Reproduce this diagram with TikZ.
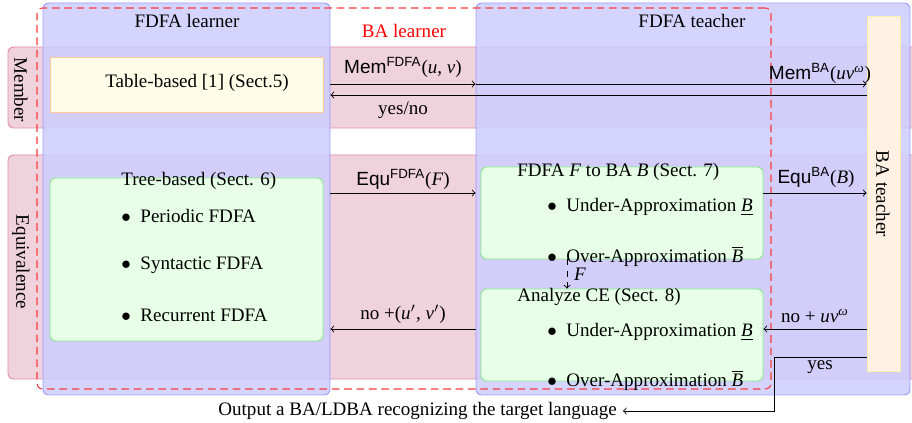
\documentclass[tikz,border=0pt]{standalone}
\usepackage{fontspec}
\setmainfont{Liberation Serif}
\setsansfont{Liberation Sans}
\usetikzlibrary{fit}
\definecolor{pinkfill}{RGB}{240,210,221}
\definecolor{pinkdraw}{RGB}{228,140,165}
\definecolor{bluefill}{RGB}{205,205,255}
\definecolor{bluedraw}{RGB}{140,140,255}
\definecolor{greenfill}{RGB}{230,255,230}
\definecolor{greendraw}{RGB}{140,235,140}
\definecolor{tablefill}{RGB}{255,253,232}
\definecolor{tabledraw}{RGB}{250,200,150}
\definecolor{batfill}{RGB}{255,242,228}
\definecolor{batdraw}{RGB}{250,238,170}
\definecolor{dashred}{RGB}{250,60,60}
\begin{document}
\begin{tikzpicture}[x=0.525pt,y=-0.525pt,
  band/.style={fill=pinkfill,draw=pinkdraw,rounded corners=3pt,inner sep=0pt,line width=0.5pt},
  actor/.style={fill=bluefill,fill opacity=0.85,draw=bluedraw,draw opacity=0.8,rounded corners=3pt,inner sep=0pt,line width=0.5pt},
  greenbox/.style={fill=greenfill,draw=greendraw,rounded corners=3pt,inner sep=0pt,line width=0.5pt},
  tablebox/.style={fill=tablefill,draw=tabledraw,inner sep=0pt,line width=0.5pt},
  batbox/.style={fill=batfill,draw=batdraw,inner sep=0pt,line width=0.5pt},
  lbl/.style={inner sep=1pt,font=\fontsize{10}{12}\selectfont},
  arr/.style={->,line width=0.45pt},
  bul/.style={anchor=west,inner sep=0pt,font=\fontsize{10}{12}\selectfont}
]
\useasboundingbox (0,0) rectangle (912,423);
\clip (0,0) rectangle (912,423);
% swim lanes
\node[band,fit={(8,47) (940,128)}] (member) {};
\node[band,fit={(8,155) (940,379)}] (equiv) {};
% actors
\node[actor,fit={(43,3) (330,395)}] (learner) {};
\node[actor,fit={(476,3) (910,395)}] (teacher) {};
% inner boxes
\node[tablebox,fit={(50,57) (323,112)}] (table) {};
\node[greenbox,fit={(50,178) (323,341)}] (tree) {};
\node[greenbox,fit={(481,167) (763,259)}] (conv) {};
\node[greenbox,fit={(481,289) (763,381)}] (ce) {};
\node[batbox,fit={(867,16) (900,371)}] (bat) {};
% BA learner dashed frame
\node[draw=dashred,dash pattern=on 4pt off 2.5pt,rounded corners=3pt,inner sep=0pt,line width=0.55pt,fit={(37,8) (771,389)}] (balearner) {};
% titles
\node[lbl] (tl) at (187,21) {FDFA learner};
\node[lbl,text=red] (tb) at (404,31) {BA learner};
\node[lbl] (tt) at (692,21) {FDFA teacher};
\node[lbl,rotate=-90] (tm) at (21,90) {Member};
\node[lbl,rotate=-90] (te) at (21,262) {Equivalence};
\node[lbl,rotate=-90] (tbat) at (883,194) {BA teacher};
% box contents
\node[lbl] (ttab) at (197,83) {Table-based [1] (Sect.5)};
\node[bul] (ttree) at (121,181) {Tree-based (Sect. 6)};
\node[bul] (b1) at (121,216) {$\bullet$\hspace{5pt}Periodic FDFA};
\node[bul] (b2) at (121,265) {$\bullet$\hspace{5pt}Syntactic FDFA};
\node[bul] (b3) at (121,315) {$\bullet$\hspace{5pt}Recurrent FDFA};
\node[bul] (tconv) at (517,172) {FDFA \textit{F} to BA \textit{B} (Sect. 7)};
\node[bul] (c1) at (547,207) {$\bullet$\hspace{5pt}Under-Approximation \underline{\textit{B}}};
\node[bul] (c2) at (547,256) {$\bullet$\hspace{5pt}Over-Approximation $\overline{\mbox{\textit{B}}}$};
\node[bul] (tce) at (517,297) {Analyze CE (Sect. 8)};
\node[bul] (d1) at (547,332) {$\bullet$\hspace{5pt}Under-Approximation \underline{\textit{B}}};
\node[bul] (d2) at (547,380) {$\bullet$\hspace{5pt}Over-Approximation $\overline{\mbox{\textit{B}}}$};
% output
\node[lbl,anchor=east,inner sep=3pt] (out) at (623,411) {Output a BA/LDBA recognizing the target language};
% membership arrows
\draw[arr] (learner.east |- 0,84) -- (teacher.west |- 0,84);
\draw[arr] (teacher.west |- 0,84) -- (bat.west |- 0,84);
\draw[arr] (bat.west |- 0,95) -- (learner.east |- 0,95);
\node[lbl] (lm1) at (403,67) {\textsf{Mem\textsuperscript{FDFA}}(\textit{u}, \textit{v})};
\node[lbl] (lm2) at (820,73) {\textsf{Mem\textsuperscript{BA}}(\textit{uv}\textsuperscript{\textit{ω}})};
\node[lbl] (lyn) at (403,110) {yes/no};
% equivalence arrows
\draw[arr] (learner.east |- 0,193) -- (teacher.west |- 0,193);
\draw[arr] (conv.east |- 0,193) -- (bat.west |- 0,193);
\draw[arr] (bat.west |- 0,329) -- (ce.east |- 0,329);
\draw[arr] (teacher.west |- 0,329) -- (learner.east |- 0,329);
\node[lbl] (le1) at (403,179) {\textsf{Equ\textsuperscript{FDFA}}(\textit{F})};
\node[lbl] (le2) at (816,177) {\textsf{Equ\textsuperscript{BA}}(\textit{B})};
\node[lbl] (ln1) at (815,316) {no + \textit{uv}\textsuperscript{\textit{ω}}};
\node[lbl] (ln2) at (403,314) {no +(\textit{u}$'$, \textit{v}$'$)};
\node[lbl] (lyes) at (820,367) {yes};
% F dashed
\draw[arr,dashed] (conv.south -| 567,0) -- (ce.north -| 567,0);
\node[lbl] (lf) at (580,274) {\textit{F}};
% yes to output
\coordinate (ya) at (774,357);
\coordinate (yb) at (774,411);
\draw[arr] (bat.west |- ya) -- (ya) -- (yb) -- (out.east);
\end{tikzpicture}
\end{document}
